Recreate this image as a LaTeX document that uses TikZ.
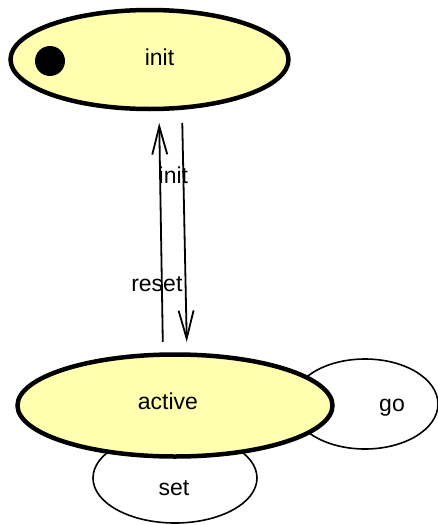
\documentclass[tikz,border=0pt]{standalone}
\usepackage{fontspec}
\setmainfont{Liberation Sans}
\usetikzlibrary{shapes.geometric,arrows.meta}
\definecolor{statefill}{RGB}{255,255,175}
\tikzset{
	bigstate/.style={ellipse,draw,line width=4.5pt,fill=statefill,inner sep=0pt,outer sep=0pt},
	substate/.style={ellipse,draw,line width=1.6pt,fill=white,inner sep=0pt,outer sep=0pt},
	trans/.style={line width=1.8pt,arrows={-{Straight Barb[length=28pt,width=15pt,line width=1.8pt]}}}
}
\begin{document}
\begin{tikzpicture}[x=1pt,y=-1pt,font=\fontsize{23pt}{27pt}\selectfont]
	\useasboundingbox (0,0) rectangle (437,525);
	% substates sit behind the active state
	\node[substate,minimum width=146pt,minimum height=90pt,
		label={[xshift=27pt,yshift=-4pt]center:go}] (go) at (365,404) {};
	\node[substate,minimum width=164pt,minimum height=90pt,
		label={[xshift=-1pt,yshift=-10pt]center:set}] (set) at (175,478) {};

	\node[bigstate,minimum width=315pt,minimum height=102pt,
		label={[xshift=-7pt,yshift=4.5pt]center:active}] (active) at (175,405.5) {};
	\node[bigstate,minimum width=278pt,minimum height=99pt,
		label={[xshift=10pt,yshift=2.5pt]center:init}] (init) at (149.5,59.5) {};
	\node[circle,fill=black,minimum size=30pt,inner sep=0pt] (start) at (50,61) {};

	\draw[trans,shorten <=12.5pt,shorten >=14pt] ([xshift=-12pt]active.north)
		-- node[pos=0.287,xshift=-5pt] {reset} ([xshift=9.5pt]init.south);
	\draw[trans,shorten <=14pt,shorten >=12.5pt] ([xshift=32.5pt]init.south)
		-- node[pos=0.27,xshift=-10pt] {init} ([xshift=12pt]active.north);
\end{tikzpicture}
\end{document}
